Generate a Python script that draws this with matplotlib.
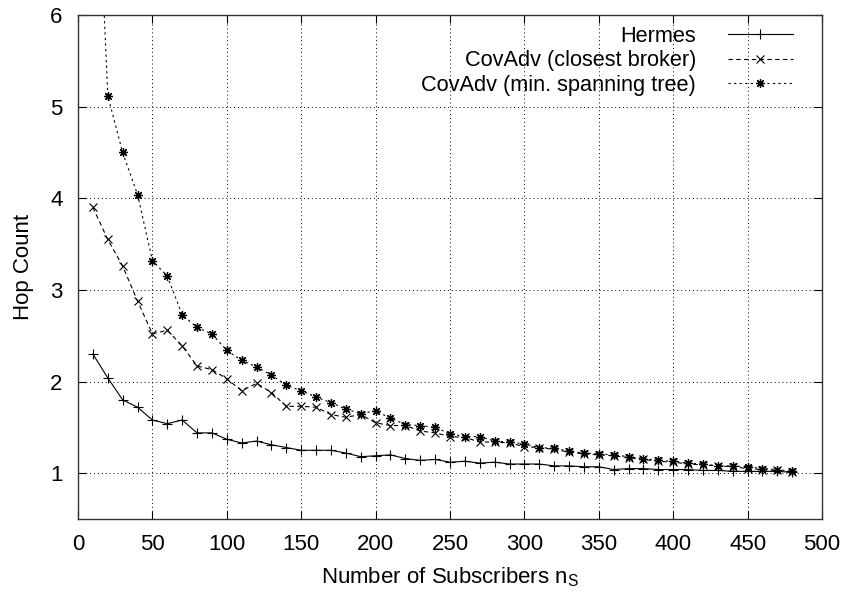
import matplotlib
matplotlib.use('Agg')
import matplotlib.pyplot as plt
import numpy as np

plt.rcParams['font.family'] = ['Liberation Sans', 'DejaVu Sans']
plt.rcParams['mathtext.fontset'] = 'custom'
plt.rcParams['mathtext.rm'] = 'Liberation Sans'
plt.rcParams['mathtext.it'] = 'Liberation Sans'

# number of subscribers
subscribers = np.arange(10, 481, 10)

hermes = [2.30, 2.04, 1.80, 1.72, 1.58, 1.54, 1.58, 1.44, 1.44, 1.37,
          1.33, 1.35, 1.31, 1.28, 1.25, 1.25, 1.25, 1.22, 1.18, 1.19,
          1.20, 1.16, 1.14, 1.15, 1.12, 1.13, 1.11, 1.12, 1.10, 1.10,
          1.10, 1.08, 1.08, 1.07, 1.07, 1.04, 1.05, 1.05, 1.04, 1.04,
          1.04, 1.03, 1.03, 1.02, 1.02, 1.02, 1.02, 1.01]

closest_broker = [3.90, 3.55, 3.26, 2.88, 2.52, 2.56, 2.39, 2.17, 2.13, 2.03,
                  1.90, 1.98, 1.88, 1.73, 1.73, 1.72, 1.64, 1.61, 1.64, 1.55,
                  1.52, 1.52, 1.46, 1.44, 1.40, 1.39, 1.34, 1.34, 1.33, 1.29,
                  1.28, 1.26, 1.23, 1.21, 1.20, 1.19, 1.17, 1.15, 1.13, 1.12,
                  1.10, 1.09, 1.08, 1.07, 1.05, 1.04, 1.03, 1.01]

spanning_tree = [8.90, 5.12, 4.50, 4.04, 3.32, 3.15, 2.73, 2.59, 2.52, 2.34,
                 2.23, 2.16, 2.07, 1.96, 1.90, 1.83, 1.77, 1.70, 1.65, 1.68,
                 1.60, 1.53, 1.52, 1.50, 1.43, 1.40, 1.40, 1.35, 1.34, 1.32,
                 1.28, 1.27, 1.24, 1.22, 1.21, 1.20, 1.18, 1.16, 1.14, 1.13,
                 1.11, 1.10, 1.08, 1.08, 1.07, 1.05, 1.04, 1.02]

labels = ['Hermes', 'CovAdv (closest broker)', 'CovAdv (min. spanning tree)']
xticks = np.arange(0, 501, 50)
yticks = np.arange(1, 7, 1)

fig = plt.figure(figsize=(8.46, 5.92), dpi=100)
ax = fig.add_axes([0.0922, 0.1233, 0.8794, 0.8514])

ax.plot(subscribers, hermes, color='black', lw=0.8, marker='+', ms=7,
        mew=0.8, label=labels[0])
ax.plot(subscribers, closest_broker, color='black', lw=0.8, ls=(0, (4, 3)),
        marker='x', ms=5.5, mew=0.8, label=labels[1])
ax.plot(subscribers, spanning_tree, color='black', lw=0.8, ls=(0, (2, 3)),
        marker=(8, 2, 0), ms=6.5, mew=0.9, label=labels[2])

ax.set_xlim(0, 500)
ax.set_ylim(0.5, 6)
ax.set_xticks(xticks)
ax.set_yticks(yticks)
ax.tick_params(direction='in', top=True, right=True, length=6, width=0.8,
               labelsize=16, pad=11)
ax.grid(True, color='black', ls=(0, (1, 3)), lw=0.7)
for s in ax.spines.values():
    s.set_linewidth(1.0)
    s.set_color('#333333')

ax.set_xlabel(r'Number of Subscribers n$_{\mathrm{S}}$', fontsize=16, labelpad=7)
ax.set_ylabel('Hop Count', fontsize=16, labelpad=12)

ax.legend(loc='upper right', bbox_to_anchor=(0.973, 0.996), borderaxespad=0,
          markerfirst=False, frameon=False, fontsize=15.7,
          handlelength=3.0, handletextpad=1.45, labelspacing=0.16)

fig.savefig('out.png', dpi=100)
